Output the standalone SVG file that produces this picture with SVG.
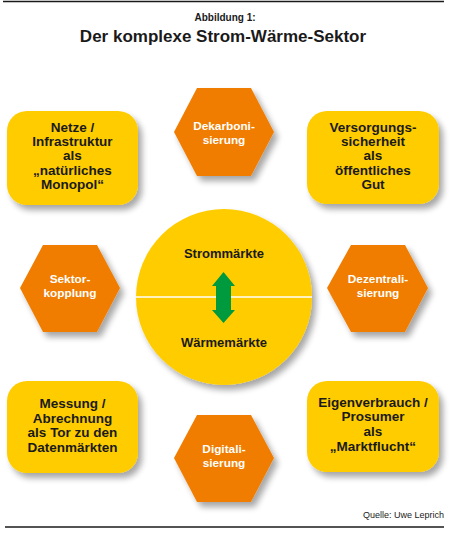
<svg xmlns="http://www.w3.org/2000/svg" width="450" height="537" viewBox="0 0 450 537">
<defs>
<filter id="sh" x="-20%" y="-20%" width="150%" height="150%">
<feGaussianBlur in="SourceAlpha" stdDeviation="3"/>
<feOffset dx="4" dy="5" result="b"/>
<feComponentTransfer><feFuncA type="linear" slope="0.35"/></feComponentTransfer>
<feMerge><feMergeNode/><feMergeNode in="SourceGraphic"/></feMerge>
</filter>
</defs>
<style>
.box{fill:#FFCC00;filter:url(#sh)}
.hex{fill:#F07D00;filter:url(#sh)}
.bt{font-family:"Liberation Sans",Arial,sans-serif;font-weight:bold;font-size:13.5px;fill:#1a1a1a;text-anchor:middle}
.ht{font-family:"Liberation Sans",Arial,sans-serif;font-weight:bold;font-size:11.8px;fill:#ffffff;text-anchor:middle}
.ct{font-family:"Liberation Sans",Arial,sans-serif;font-weight:bold;font-size:13px;fill:#1a1a1a;text-anchor:middle}
.rule{stroke:#1a1a1a;stroke-width:1.5}
</style>
<rect width="450" height="537" fill="#ffffff"/>
<line class="rule" x1="3" y1="1.5" x2="444" y2="1.5"/>
<line class="rule" x1="5" y1="527" x2="444" y2="527"/>
<text x="225" y="21" style="font-family:'Liberation Sans',Arial,sans-serif;font-weight:bold;font-size:10px;fill:#1a1a1a;text-anchor:middle">Abbildung 1:</text>
<text x="223" y="42" style="font-family:'Liberation Sans',Arial,sans-serif;font-weight:bold;font-size:17px;fill:#1a1a1a;text-anchor:middle">Der komplexe Strom-Wärme-Sektor</text>

<g id="center">
<circle cx="224" cy="297" r="88" class="box"/>
<line x1="136" y1="297" x2="312" y2="297" stroke="#ffffff" stroke-width="1.6"/>
<text class="ct" x="224" y="258">Strommärkte</text>
<text class="ct" x="224" y="347">Wärmemärkte</text>
</g>

<g id="connectors">
<polygon fill="#009A3E" points="223.5,272 235,286 231,286 231,310 235,310 223.5,323 212,310 216,310 216,286 212,286"/>
</g>

<g id="netze">
<rect class="box" x="7" y="111" width="131" height="94" rx="20"/>
<text class="bt" x="72.5" y="132">Netze /</text>
<text class="bt" x="72.5" y="146">Infrastruktur</text>
<text class="bt" x="72.5" y="160">als</text>
<text class="bt" x="72.5" y="175">„natürliches</text>
<text class="bt" x="72.5" y="189">Monopol“</text>
</g>

<g id="versorgung">
<rect class="box" x="307" y="111" width="132" height="93" rx="20"/>
<text class="bt" x="373" y="132">Versorgungs-</text>
<text class="bt" x="373" y="146">sicherheit</text>
<text class="bt" x="373" y="160">als</text>
<text class="bt" x="373" y="175">öffentliches</text>
<text class="bt" x="373" y="189">Gut</text>
</g>

<g id="messung">
<rect class="box" x="7" y="381" width="131" height="92" rx="20"/>
<text class="bt" x="72.5" y="408">Messung /</text>
<text class="bt" x="72.5" y="423">Abrechnung</text>
<text class="bt" x="72.5" y="437">als Tor zu den</text>
<text class="bt" x="72.5" y="452">Datenmärkten</text>
</g>

<g id="eigenverbrauch">
<rect class="box" x="307" y="381" width="132" height="91" rx="20"/>
<text class="bt" x="373" y="407">Eigenverbrauch /</text>
<text class="bt" x="373" y="421">Prosumer</text>
<text class="bt" x="373" y="436">als</text>
<text class="bt" x="373" y="451">„Marktflucht“</text>
</g>

<g id="dekarbonisierung">
<polygon class="hex" points="174,132 197,88 251,88 274,132 251,176 197,176"/>
<text class="ht" x="224" y="130">Dekarboni-</text>
<text class="ht" x="224" y="144">sierung</text>
</g>

<g id="sektorkopplung">
<polygon class="hex" points="20,288 43,245 97,245 120,288 97,332 43,332"/>
<text class="ht" x="70" y="283">Sektor-</text>
<text class="ht" x="70" y="297">kopplung</text>
</g>

<g id="dezentralisierung">
<polygon class="hex" points="327,288 351,245 405,245 428,288 405,332 351,332"/>
<text class="ht" x="378" y="283">Dezentrali-</text>
<text class="ht" x="378" y="297">sierung</text>
</g>

<g id="digitalisierung">
<polygon class="hex" points="174,458 197,415 251,415 274,458 251,502 197,502"/>
<text class="ht" x="224" y="453">Digitali-</text>
<text class="ht" x="224" y="467">sierung</text>
</g>

<text x="444" y="518" style="font-family:'Liberation Sans',Arial,sans-serif;font-size:9px;fill:#1a1a1a;text-anchor:end">Quelle: Uwe Leprich</text>
</svg>
